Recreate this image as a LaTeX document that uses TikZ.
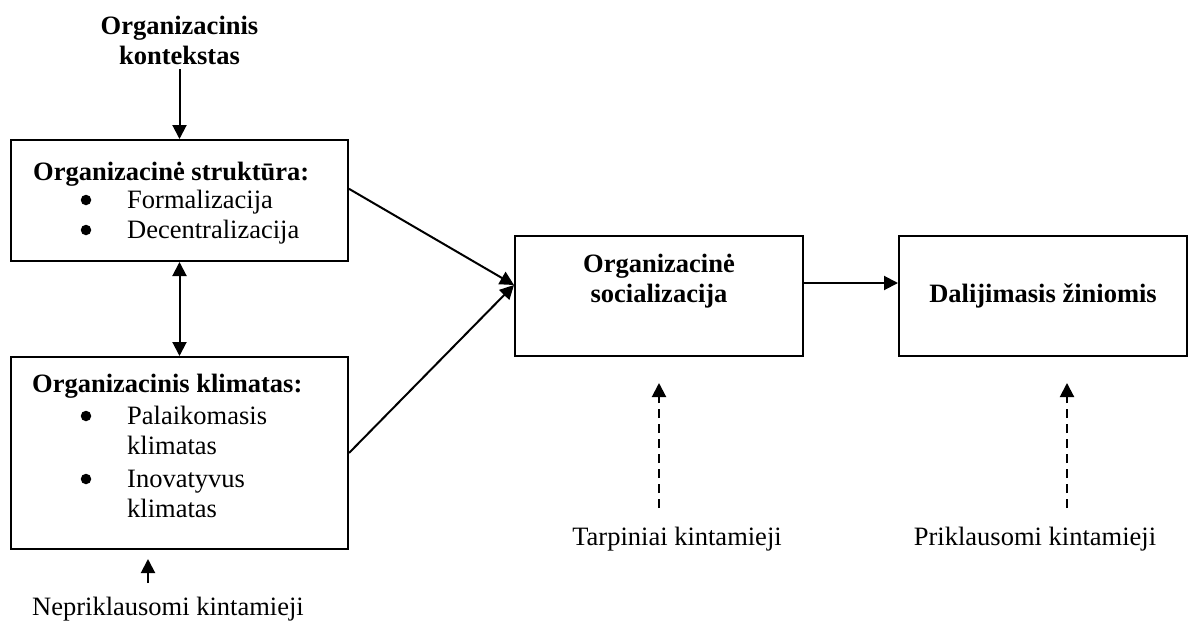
\documentclass[tikz,border=0pt]{standalone}
\usepackage{fontspec}
\setmainfont{Liberation Serif}
\usetikzlibrary{arrows.meta,calc}
\begin{document}
\begin{tikzpicture}[x=1pt,y=-1pt,
  box/.style={draw,rectangle,line width=2pt,inner sep=0pt},
  txt/.style={inner sep=0pt,font=\fontsize{26.5}{30}\selectfont},
  hd/.style={txt,font=\fontsize{26.5}{30}\selectfont\bfseries},
  item/.style={txt,anchor=base west},
  dot/.style={circle,fill=black,inner sep=0pt,minimum size=10.5pt},
  arr/.style={line width=2pt,-{Triangle[length=14pt,width=14pt]}},
  darr/.style={arr,dash pattern=on 9pt off 6pt}]
\useasboundingbox (0,0) rectangle (1189,621);

% boxes
\node[box,minimum width=337pt,minimum height=121pt] (s1) at (179.5,200.5) {};
\node[box,minimum width=337pt,minimum height=192pt] (s2) at (179.5,453) {};
\node[box,minimum width=288pt,minimum height=120pt] (m) at (659,296) {};
\node[box,minimum width=288pt,minimum height=120pt] (d) at (1043,296) {};

% context heading (base = baseline of the last line)
\node[hd,align=center,anchor=base] (t) at (179.5,64) {Organizacinis\\kontekstas};

% structure box contents
\node[hd,anchor=base west] (s1h) at (33,180) {Organizacinė struktūra:};
\node[dot] (s1d1) at (86,200) {};
\node[item] (s1i1) at (127,208) {Formalizacija};
\node[dot] (s1d2) at (86,230) {};
\node[item] (s1i2) at (127,238) {Decentralizacija};

% climate box contents
\node[hd,anchor=base west] (s2h) at (32,392) {Organizacinis klimatas:};
\node[dot] (s2d1) at (86,416) {};
\node[item] (s2i1) at (127,424) {Palaikomasis};
\node[item] (s2i2) at (127,454) {klimatas};
\node[dot] (s2d2) at (86,479) {};
\node[item] (s2i3) at (127,487) {Inovatyvus};
\node[item] (s2i4) at (127,517) {klimatas};

% socialization and knowledge sharing
\node[hd,align=center,anchor=base] (mt) at (659,302) {Organizacinė\\socializacija};
\node[hd,anchor=base] (dt) at (1043,302) {Dalijimasis žiniomis};

% variable labels
\node[txt,anchor=base] (nl) at (168,615) {Nepriklausomi kintamieji};
\node[txt,anchor=base] (tl) at (677,545) {Tarpiniai kintamieji};
\node[txt,anchor=base] (pl) at (1035,545) {Priklausomi kintamieji};

% connectors
\draw[arr,shorten <=5pt] (t.south) -- (s1.north);
\draw[line width=2pt,{Triangle[length=14pt,width=14pt]}-{Triangle[length=14pt,width=14pt]}] (s1.south) -- (s2.north);
\coordinate (min) at ($(m.west)+(0,-11)$);
\draw[arr] ($(s1.north east)!0.405!(s1.south east)$) -- (min);
\draw[arr] (s2.east) -- (min);
\draw[arr] ($(m.east)+(0,-13)$) -- ($(d.west)+(0,-13)$);

\coordinate (ntail) at ($(s2.south)+(-31.5,33)$);
\coordinate (ntip) at ($(s2.south)+(-31.5,9)$);
\draw[arr] (ntail) -- (ntip);

\coordinate (mtail) at ($(m.south)+(0,151)$);
\coordinate (mtip) at ($(m.south)+(0,26)$);
\draw[darr] (mtail) -- (mtip);

\coordinate (dtail) at ($(d.south)+(24,151)$);
\coordinate (dtip) at ($(d.south)+(24,26)$);
\draw[darr] (dtail) -- (dtip);
\end{tikzpicture}
\end{document}
